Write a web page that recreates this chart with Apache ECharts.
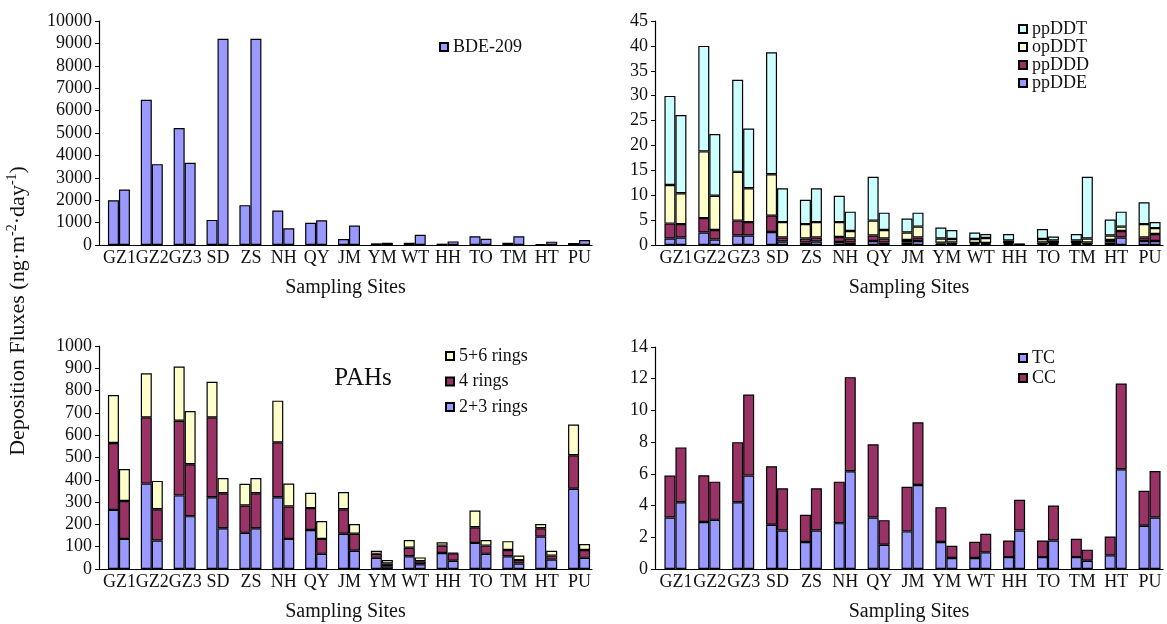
<!DOCTYPE html>
<html lang="en">
<head>
  <meta charset="UTF-8">
  <title>Deposition fluxes</title>
  <script src="https://cdn.jsdelivr.net/npm/echarts@6/dist/echarts.min.js"></script>
  <style>
    html, body { margin: 0; padding: 0; background: #fff; }
  </style>
</head>
<body>
  <div id="main" style="width: 1167px;height:624px;"></div>
  <script>
    // sampling sites (two bars per site)
    var sites = ['GZ1', 'GZ2', 'GZ3', 'SD', 'ZS', 'NH', 'QY', 'JM', 'YM', 'WT', 'HH', 'TO', 'TM', 'HT', 'PU'];

    // BDE-209
    var bdeA = [2000, 6480, 5220, 1120, 1780, 1540, 990, 270, 75, 100, 60, 390, 100, 30, 90];
    var bdeB = [2480, 3610, 3670, 9210, 9210, 750, 1100, 870, 100, 460, 160, 280, 390, 150, 220];

    // DDTs, first bar
    var ppDDE_A = [1.3, 2.5, 1.9, 2.6, 0.5, 0.6, 0.8, 0.5, 0.25, 0.2, 0.2, 0.2, 0.2, 0.5, 0.8];
    var ppDDD_A = [3.0, 2.9, 3.0, 3.3, 0.8, 1.0, 1.1, 0.5, 0.2, 0.2, 0.2, 0.3, 0.2, 0.5, 0.7];
    var opDDT_A = [7.75, 13.4, 9.8, 8.3, 2.9, 3.0, 3.0, 1.5, 0.85, 0.8, 0.5, 0.7, 0.5, 0.9, 2.7];
    var ppDDT_A = [17.9, 21.2, 18.5, 24.5, 4.9, 5.3, 8.8, 2.8, 2.2, 1.3, 1.3, 2.0, 1.3, 3.2, 4.4];
    // DDTs, second bar
    var ppDDE_B = [1.5, 1.1, 1.9, 0.7, 0.7, 0.5, 0.5, 0.8, 0.2, 0.2, 0.05, 0.2, 0.2, 1.5, 0.8];
    var ppDDD_B = [2.7, 1.9, 2.7, 0.8, 0.8, 0.8, 0.8, 0.7, 0.3, 0.2, 0.05, 0.2, 0.3, 1.3, 1.4];
    var opDDT_B = [6.2, 6.9, 6.8, 3.1, 3.1, 1.5, 1.7, 2.2, 0.7, 1.0, 0.05, 0.5, 0.8, 0.9, 1.2];
    var ppDDT_B = [15.7, 12.4, 12.0, 6.8, 6.8, 3.9, 3.5, 2.8, 1.8, 0.8, 0.1, 0.8, 12.4, 3.0, 1.2];

    // PAHs
    var ring23_A = [265, 383, 330, 322, 162, 322, 175, 158, 50, 57, 72, 117, 57, 145, 360];
    var ring4_A = [300, 297, 335, 358, 123, 246, 98, 110, 18, 38, 33, 70, 28, 38, 150];
    var ring56_A = [215, 198, 243, 160, 97, 187, 69, 77, 14, 35, 15, 75, 40, 19, 138];
    var ring23_B = [135, 128, 237, 183, 183, 135, 68, 82, 12, 21, 37, 68, 25, 42, 50];
    var ring4_B = [170, 140, 233, 157, 157, 145, 67, 76, 13, 14, 33, 37, 15, 18, 35];
    var ring56_B = [143, 127, 238, 68, 68, 103, 80, 44, 15, 17, 3, 25, 20, 22, 27];

    // TC / CC
    var tcA = [3.25, 2.96, 4.21, 2.79, 1.70, 2.89, 3.25, 2.37, 1.70, 0.69, 0.75, 0.75, 0.75, 0.86, 2.73];
    var ccA = [2.64, 2.95, 3.79, 3.69, 1.72, 2.62, 4.61, 2.81, 2.20, 1.03, 1.05, 1.05, 1.16, 1.19, 2.20];
    var tcB = [4.21, 3.10, 5.89, 2.43, 2.43, 6.16, 1.53, 5.30, 0.69, 1.05, 2.43, 1.80, 0.52, 6.29, 3.25];
    var ccB = [3.46, 2.41, 5.11, 2.66, 2.66, 5.94, 1.55, 3.95, 0.78, 1.17, 1.93, 2.20, 0.70, 5.41, 2.93];

    var FONT = 'Liberation Serif';
    var BLUE = '#9999ff', MAROON = '#993366', YELLOW = '#ffffcc', CYAN = '#ccffff';

    var myChart = echarts.init(document.getElementById('main'));

    // one stacked bar piece
    function bar(idx, name, color, stack, data) {
      return {
        type: 'bar', name: name, xAxisIndex: idx, yAxisIndex: idx,
        stack: stack, data: data, barWidth: 11, barGap: '0%',
        itemStyle: { color: color, borderColor: '#000', borderWidth: 1.2 },
        emphasis: { disabled: true }
      };
    }
    // empty spacer so the pair sits a bit right of the slot centre
    function pad(idx) {
      return { type: 'bar', xAxisIndex: idx, yAxisIndex: idx, stack: 'pad' + idx, barWidth: 7, barGap: '0%', data: [] };
    }

    function xAxis(idx) {
      return {
        type: 'category', gridIndex: idx, data: sites,
        axisLine: { lineStyle: { color: '#000', width: 1.2 } },
        axisTick: { inside: true, length: 3, lineStyle: { color: '#000' } },
        axisLabel: { interval: 0, fontFamily: FONT, fontSize: 18, color: '#111', margin: 4, padding: [0, 0, 0, 8] },
        name: 'Sampling Sites', nameLocation: 'middle', nameGap: 33,
        nameTextStyle: { fontFamily: FONT, fontSize: 20, color: '#111' }
      };
    }
    function yAxis(idx, max, interval) {
      return {
        type: 'value', gridIndex: idx, min: 0, max: max, interval: interval,
        axisLine: { show: true, lineStyle: { color: '#000', width: 1.2 } },
        axisTick: { show: true, length: 4, lineStyle: { color: '#000' } },
        splitLine: { show: false },
        axisLabel: {
          fontFamily: FONT, fontSize: 18, color: '#111', margin: 7,
          formatter: function (v) { return String(v); }
        }
      };
    }
    function legend(names, left, top, gap) {
      return {
        data: names, orient: 'vertical', left: left, top: top, itemGap: gap,
        itemWidth: 8, itemHeight: 8, icon: 'rect', selectedMode: false,
        textStyle: { fontFamily: FONT, fontSize: 18, color: '#111', lineHeight: 18 }
      };
    }

    option = {
      animation: false,
      backgroundColor: '#fff',
      grid: [
        { left: 99, top: 21, width: 493, height: 224 },
        { left: 655, top: 21, width: 508, height: 224 },
        { left: 99, top: 346, width: 493, height: 223 },
        { left: 655, top: 347, width: 508, height: 222 }
      ],
      xAxis: [xAxis(0), xAxis(1), xAxis(2), xAxis(3)],
      yAxis: [yAxis(0, 10000, 1000), yAxis(1, 45, 5), yAxis(2, 1000, 100), yAxis(3, 14, 2)],
      legend: [
        legend(['BDE-209'], 434, 33, 0),
        legend(['ppDDT', 'opDDT', 'ppDDD', 'ppDDE'], 1013, 15, 0),
        legend(['5+6 rings', '4 rings', '2+3 rings'], 440, 342, 7.5),
        legend(['TC', 'CC'], 1013, 344, 2)
      ],
      graphic: [
        {
          type: 'text', x: 18, y: 311, rotation: Math.PI / 2,
          style: {
            text: '{a|Deposition Fluxes (ng·m}{s|-2}{a|·day}{s|-1}{a|)}',
            align: 'center', verticalAlign: 'middle', fill: '#111',
            rich: {
              a: { fontFamily: FONT, fontSize: 22, fill: '#111', lineHeight: 26 },
              s: { fontFamily: FONT, fontSize: 14, fill: '#111', verticalAlign: 'top', lineHeight: 26 }
            }
          }
        },
        {
          type: 'text', x: 363, y: 378,
          style: { text: 'PAHs', fontFamily: FONT, fontSize: 25, fill: '#111', align: 'center', verticalAlign: 'middle' }
        }
      ],
      series: [
        pad(0),
        bar(0, 'BDE-209', BLUE, 'bA', bdeA),
        bar(0, 'BDE-209', BLUE, 'bB', bdeB),

        pad(1),
        bar(1, 'ppDDE', BLUE, 'dA', ppDDE_A),
        bar(1, 'ppDDD', MAROON, 'dA', ppDDD_A),
        bar(1, 'opDDT', YELLOW, 'dA', opDDT_A),
        bar(1, 'ppDDT', CYAN, 'dA', ppDDT_A),
        bar(1, 'ppDDE', BLUE, 'dB', ppDDE_B),
        bar(1, 'ppDDD', MAROON, 'dB', ppDDD_B),
        bar(1, 'opDDT', YELLOW, 'dB', opDDT_B),
        bar(1, 'ppDDT', CYAN, 'dB', ppDDT_B),

        pad(2),
        bar(2, '2+3 rings', BLUE, 'pA', ring23_A),
        bar(2, '4 rings', MAROON, 'pA', ring4_A),
        bar(2, '5+6 rings', YELLOW, 'pA', ring56_A),
        bar(2, '2+3 rings', BLUE, 'pB', ring23_B),
        bar(2, '4 rings', MAROON, 'pB', ring4_B),
        bar(2, '5+6 rings', YELLOW, 'pB', ring56_B),

        pad(3),
        bar(3, 'TC', BLUE, 'cA', tcA),
        bar(3, 'CC', MAROON, 'cA', ccA),
        bar(3, 'TC', BLUE, 'cB', tcB),
        bar(3, 'CC', MAROON, 'cB', ccB)
      ]
    };

    myChart.setOption(option);
  </script>
</body>
</html>
